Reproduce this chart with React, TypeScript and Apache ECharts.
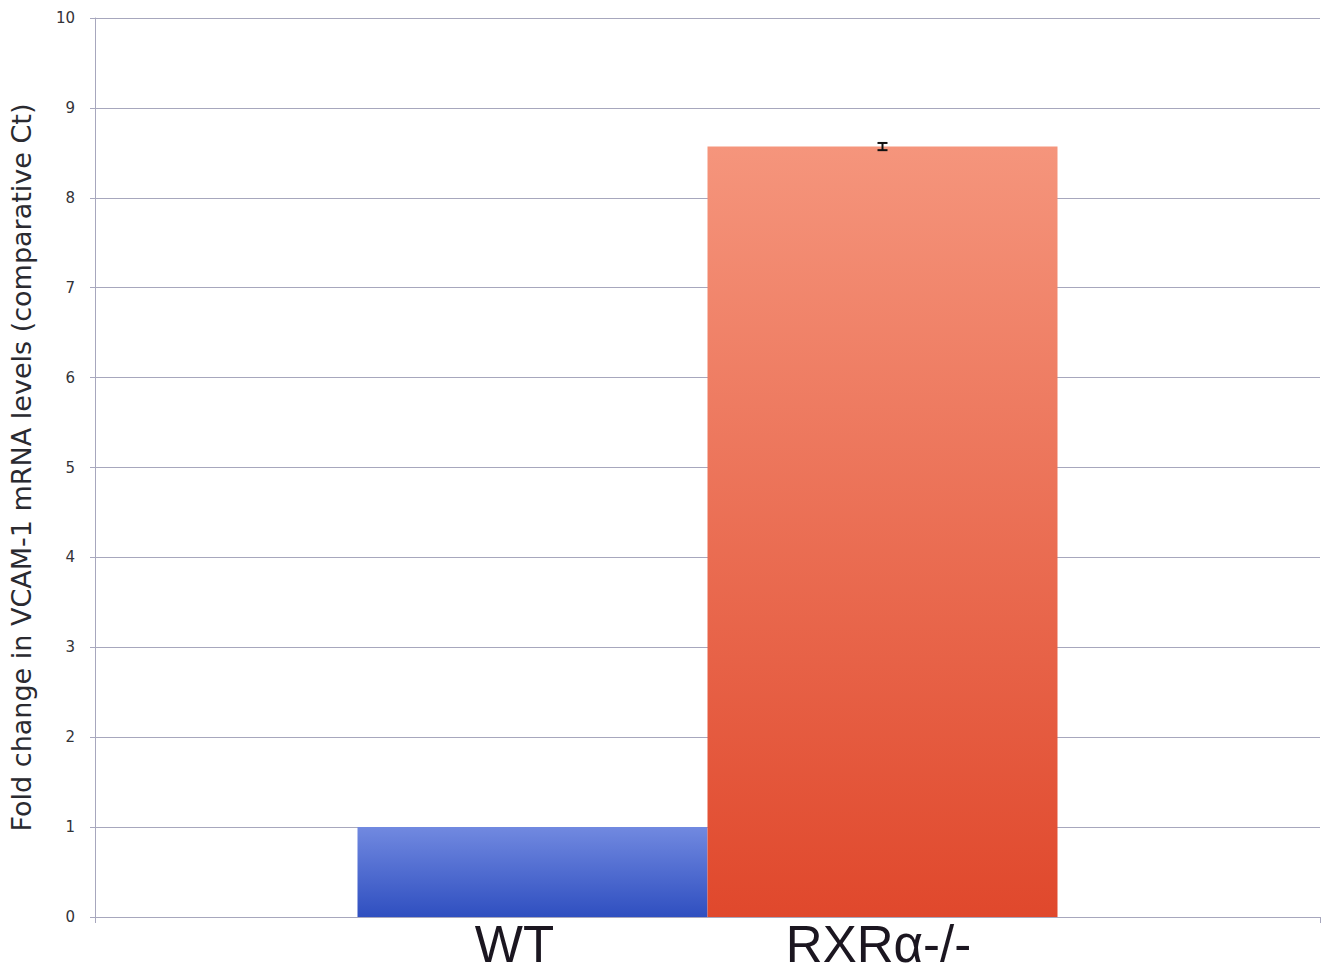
import React, { useEffect, useRef } from "react";
import * as echarts from "echarts";

// Fold change in VCAM-1 mRNA levels, comparative Ct
const groups = ["WT", "RXRα-/-"];
const foldChange = [1.0, 8.57];
const errors = [0, 0.04];
const yTicks = { min: 0, max: 10, interval: 1 };

const BAR_WIDTH = 350;
const gridColor = "#a7a7bd";

const gradients = [
  ["#7189e0", "#2f4fc0"],
  ["#f5957c", "#e0482c"],
];
const labelShift = [-18, -4];

export default function App() {
  const ref = useRef<HTMLDivElement>(null);

  useEffect(() => {
    document.body.style.margin = "0";
    if (!ref.current) return;
    const chart = echarts.init(ref.current, undefined, { renderer: "svg" });

    const barSeries = groups.map((name, i) => ({
      name,
      type: "bar",
      data: [foldChange[i]],
      barWidth: BAR_WIDTH,
      barGap: "0%",
      itemStyle: {
        color: new echarts.graphic.LinearGradient(0, 0, 0, 1, [
          { offset: 0, color: gradients[i][0] },
          { offset: 1, color: gradients[i][1] },
        ]),
      },
      label: {
        show: true,
        position: "bottom",
        distance: 2,
        offset: [labelShift[i], 0],
        formatter: name,
        fontFamily: "Liberation Sans, Arial, sans-serif",
        fontSize: 51,
        color: "#1b1620",
      },
    }));

    // Error bars drawn at the centre of each group's bar
    const errorData = groups
      .map((_, i) => [0, foldChange[i], errors[i], i])
      .filter((d) => d[2] > 0);

    const errorSeries = {
      type: "custom",
      z: 10,
      data: errorData,
      renderItem: (params: any, api: any) => {
        const v = api.value(1);
        const e = api.value(2);
        const idx = api.value(3);
        const offset = (idx - (groups.length - 1) / 2) * BAR_WIDTH;
        const hi = api.coord([api.value(0), v + e]);
        const lo = api.coord([api.value(0), v - e]);
        const x = hi[0] + offset;
        const cap = 5;
        const style = { stroke: "#111", lineWidth: 2 };
        return {
          type: "group",
          children: [
            { type: "line", shape: { x1: x, y1: hi[1], x2: x, y2: lo[1] }, style },
            { type: "line", shape: { x1: x - cap, y1: hi[1], x2: x + cap, y2: hi[1] }, style },
            { type: "line", shape: { x1: x - cap, y1: lo[1], x2: x + cap, y2: lo[1] }, style },
          ],
        };
      },
    };

    chart.setOption({
      animation: false,
      backgroundColor: "#ffffff",
      grid: { left: 95, right: 6, top: 18, bottom: 60, containLabel: false },
      xAxis: {
        type: "category",
        data: [""],
        axisLine: { show: true, lineStyle: { color: gridColor, width: 1 } },
        axisTick: { show: true, length: 6, lineStyle: { color: gridColor } },
        axisLabel: { show: false },
      },
      yAxis: {
        type: "value",
        min: yTicks.min,
        max: yTicks.max,
        interval: yTicks.interval,
        name: "Fold change in VCAM-1 mRNA levels (comparative Ct)",
        nameLocation: "middle",
        nameGap: 60,
        nameTextStyle: {
          fontFamily: "DejaVu Sans, sans-serif",
          fontSize: 27,
          color: "#2a2a30",
        },
        axisLine: { show: true, lineStyle: { color: gridColor, width: 1 } },
        axisTick: { show: true, length: 5, lineStyle: { color: gridColor } },
        axisLabel: {
          margin: 20,
          fontFamily: "DejaVu Sans, sans-serif",
          fontSize: 15,
          color: "#333338",
        },
        splitLine: { show: true, lineStyle: { color: gridColor, width: 1 } },
      },
      series: [...barSeries, errorSeries],
    });

    return () => chart.dispose();
  }, []);

  return <div ref={ref} style={{ width: 1326, height: 977 }} />;
}
